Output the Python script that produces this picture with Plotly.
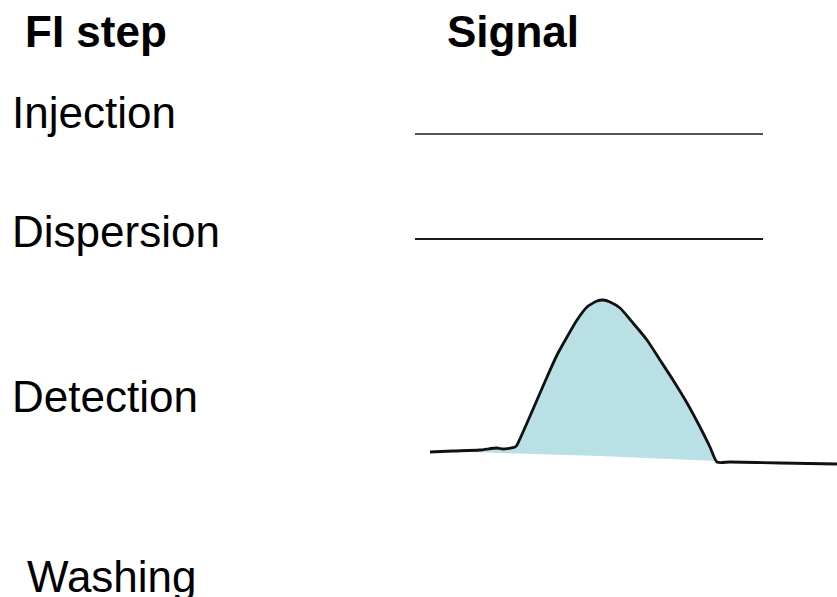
import plotly.graph_objects as go

# ---- data ----
header_labels = ["FI step", "Signal"]
header_x = [23, 445]
header_y = [31, 31]

step_labels = ["Injection", "Dispersion", "Detection", "Washing"]
step_x = [10, 10, 10, 25]
step_y = [112, 231, 396, 576]

# flat signals (Injection, Dispersion)
flat_x = [415, 763]
injection_y = [134, 134]
dispersion_y = [239, 239]

# detection signal trace
signal_x = [430, 453, 480, 497, 503, 515, 517, 527, 537, 547, 557, 567, 577, 587, 597,
            603, 610, 620, 633, 647, 660, 673, 687, 700, 710, 717, 730, 780, 837]
signal_y = [452, 451, 450, 448, 449, 447, 445, 423, 400, 377, 355, 337, 320, 307, 301,
            300, 302, 308, 323, 340, 360, 380, 403, 427, 447, 462, 462, 463, 464]

# peak area (curve from rise start to end, closed by the sloping baseline)
peak_x = [470, 497, 503, 515, 517, 527, 537, 547, 557, 567, 577, 587, 597,
          603, 610, 620, 633, 647, 660, 673, 687, 700, 710, 717, 600, 470]
peak_y = [451, 448, 449, 447, 445, 423, 400, 377, 355, 337, 320, 307, 301,
          300, 302, 308, 323, 340, 360, 380, 403, 427, 447, 461, 456, 452]

fig = go.Figure()

fig.add_trace(go.Scatter(x=peak_x, y=peak_y, mode="lines", fill="toself",
                         fillcolor="#b9e0e4", line=dict(width=0, color="#b9e0e4"),
                         hoverinfo="skip", showlegend=False))
fig.add_trace(go.Scatter(x=signal_x, y=signal_y, mode="lines",
                         line=dict(color="#111111", width=2.8, shape="spline", smoothing=0.6),
                         hoverinfo="skip", showlegend=False))
fig.add_trace(go.Scatter(x=flat_x, y=injection_y, mode="lines",
                         line=dict(color="#555555", width=2), hoverinfo="skip", showlegend=False))
fig.add_trace(go.Scatter(x=flat_x, y=dispersion_y, mode="lines",
                         line=dict(color="#1a1a1a", width=2), hoverinfo="skip", showlegend=False))

font_family = "Liberation Sans, Arial, sans-serif"
for t, x, y in zip(header_labels, header_x, header_y):
    fig.add_annotation(x=x, y=y, text="<b>%s</b>" % t, showarrow=False,
                       xanchor="left", yanchor="middle",
                       font=dict(family=font_family, size=44, color="#000000"))
for t, x, y in zip(step_labels, step_x, step_y):
    fig.add_annotation(x=x, y=y, text=t, showarrow=False,
                       xanchor="left", yanchor="middle",
                       font=dict(family=font_family, size=44, color="#000000"))

fig.update_layout(
    width=837, height=597,
    margin=dict(l=0, r=0, t=0, b=0),
    paper_bgcolor="white", plot_bgcolor="white",
    xaxis=dict(range=[0, 837], visible=False, fixedrange=True),
    yaxis=dict(range=[597, 0], visible=False, fixedrange=True),
    showlegend=False,
)

fig.write_html("out.html", config={"displayModeBar": False},
               post_script="document.body.style.margin='0';document.body.style.overflow='hidden';")
